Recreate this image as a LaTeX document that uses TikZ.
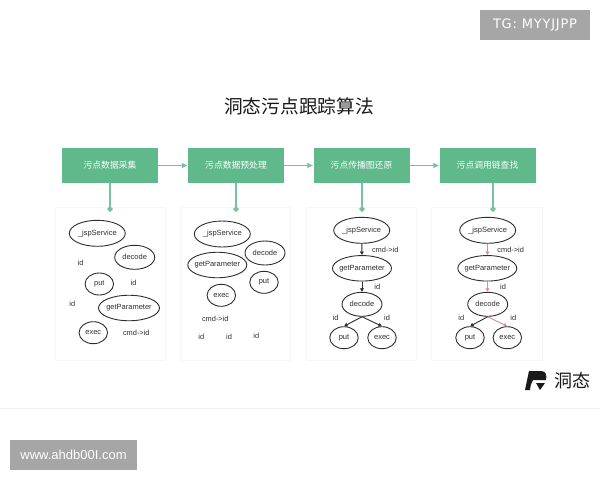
\documentclass[tikz,border=0pt]{standalone}
\usepackage{fontspec}
\setmainfont{Liberation Sans}
\newfontfamily\cjk{Noto Sans CJK SC}
\newfontfamily\tgfont[LetterSpace=6]{DejaVu Sans}
\usetikzlibrary{arrows.meta,shapes.geometric,calc}
\definecolor{flowgreen}{HTML}{5FB98A}
\definecolor{stampgray}{HTML}{A6A6A6}
\definecolor{inkgray}{HTML}{2E2E2E}
\definecolor{hotpink}{HTML}{D98C94}
\tikzset{
  x=1pt,y=-1pt,
  greenbox/.style={fill=flowgreen,draw=none,minimum width=96pt,minimum height=35pt,inner sep=0pt,text=white,font=\cjk\fontsize{8.8}{10}\selectfont},
  card/.style={fill=white,draw=black!3,line width=1pt,minimum width=110.5pt,minimum height=153pt,inner sep=0pt},
  fn/.style={ellipse,draw=inkgray,line width=0.9pt,fill=white,inner sep=-7pt,text=inkgray,font=\fontsize{7.5}{9}\selectfont},
  big/.style={fn,minimum width=56pt,minimum height=26pt},
  gp/.style={fn,minimum width=59pt,minimum height=25.5pt},
  dec/.style={fn,minimum width=40pt,minimum height=24pt},
  small/.style={fn,minimum width=28.5pt,minimum height=22pt},
  lbl/.style={inner sep=0pt,text=inkgray,font=\fontsize{7.4}{9}\selectfont},
  hflow/.style={draw=flowgreen!85!white,line width=1.2pt,-{Latex[length=6pt,width=6pt]}},
  vflow/.style={draw=flowgreen!85!white,line width=1.2pt,-{Diamond[length=6pt,width=6pt]}},
  call/.style={draw=inkgray,line width=0.9pt,-{Latex[length=3.5pt,width=4.5pt]}},
  hot/.style={draw=hotpink,line width=0.9pt,-{Latex[length=3.5pt,width=4.5pt]}},
  stamp/.style={fill=stampgray,inner sep=0pt,text=white},
}
\begin{document}
\begin{tikzpicture}
\useasboundingbox (0,0) rectangle (600,480);
\fill[white] (0,0) rectangle (600,480);
% stamps
\node[stamp,minimum width=110pt,minimum height=30pt,font=\tgfont\fontsize{13}{15}\selectfont] (tg) at (535,25) {TG: MYYJJPP};
\node[stamp,minimum width=127pt,minimum height=30pt,font=\fontsize{13}{15}\selectfont] (www) at (73.5,455) {www.ahdb00I.com};
% title
\node[inner sep=0pt,text=black!90,font=\cjk\fontsize{18.7}{22}\selectfont] (title) at (299,106) {洞态污点跟踪算法};
% cards
\node[card] (c1) at (110.5,283.5) {};
\node[card] (c2) at (235.5,283.5) {};
\node[card] (c3) at (361.5,283.5) {};
\node[card] (c4) at (487,283.5) {};
% green boxes
\node[greenbox] (g1) at (110,165.5) {污点数据采集};
\node[greenbox] (g2) at (236,165.5) {污点数据预处理};
\node[greenbox] (g3) at (361.5,165.5) {污点传播图还原};
\node[greenbox] (g4) at (487.5,165.5) {污点调用链查找};
\draw[hflow] (g1) -- (g2);
\draw[hflow] (g2) -- (g3);
\draw[hflow] (g3) -- (g4);
\coordinate (t1) at (110,212);
\coordinate (t2) at (236,212);
\coordinate (t3) at (362,212);
\coordinate (t4) at (493,212);
\draw[vflow] (t1 |- g1.south) -- (t1);
\draw[vflow] (t2 |- g2.south) -- (t2);
\draw[vflow] (t3 |- g3.south) -- (t3);
\draw[vflow] (t4 |- g4.south) -- (t4);
% column 1
\node[big] (a1) at (97.3,233.3) {\_jspService};
\node[dec] (a2) at (134.7,257.3) {decode};
\node[small] (a3) at (99.3,284) {put};
\node[gp,minimum width=61pt] (a4) at (129,308) {getParameter};
\node[small] (a5) at (93.3,332.7) {exec};
\node[lbl] (al1) at (80.7,263.3) {id};
\node[lbl] (al2) at (133.7,283.3) {id};
\node[lbl] (al3) at (72.3,303.7) {id};
\node[lbl] (al4) at (136.3,333) {cmd->id};
% column 2
\node[big] (b1) at (222.3,234) {\_jspService};
\node[dec] (b2) at (265,253) {decode};
\node[gp] (b3) at (217.3,265) {getParameter};
\node[small] (b4) at (264,282.3) {put};
\node[small] (b5) at (221.3,295.3) {exec};
\node[lbl] (bl1) at (215.3,318.7) {cmd->id};
\node[lbl] (bl2) at (201.3,337) {id};
\node[lbl] (bl3) at (229,337) {id};
\node[lbl] (bl4) at (256.3,336.3) {id};
% column 3
\node[big] (d1) at (361.7,230.3) {\_jspService};
\node[gp] (d2) at (362,268.3) {getParameter};
\node[dec] (d3) at (362,304.3) {decode};
\node[small] (d4) at (344,337.7) {put};
\node[small] (d5) at (382,337.7) {exec};
\draw[call] (d1) -- (d2);
\draw[call] (d2) -- (d3);
\draw[call] (d3.south) -- (d4.north);
\draw[call] (d3.south) -- (d5.north);
\node[lbl] (dl1) at (385.3,250) {cmd->id};
\node[lbl] (dl2) at (377.3,286.7) {id};
\node[lbl] (dl3) at (335.7,318) {id};
\node[lbl] (dl4) at (387,318) {id};
% column 4
\node[big] (e1) at (487.7,230.3) {\_jspService};
\node[gp] (e2) at (487.3,268.3) {getParameter};
\node[dec] (e3) at (487.7,304.3) {decode};
\node[small] (e4) at (470,337.7) {put};
\node[small] (e5) at (507.3,337.7) {exec};
\draw[hot] (e1) -- (e2);
\draw[hot] (e2) -- (e3);
\draw[call] (e3.south) -- (e4.north);
\draw[hot] (e3.south) -- (e5.north);
\node[lbl] (el1) at (510.7,250) {cmd->id};
\node[lbl] (el2) at (503,286.7) {id};
\node[lbl] (el3) at (461.3,318) {id};
\node[lbl] (el4) at (513.3,318) {id};
% logo
\fill[black!90] (529,371) -- (541,371) .. controls (546,371) and (547,375) .. (546,380) -- (533,380) .. controls (531,384) and (530,387) .. (530,390) -- (525,390) -- cycle;
\fill[black!90] (536,383) -- (545,383) -- (540,390) -- cycle;
\node[inner sep=0pt,text=black!90,font=\cjk\fontsize{18}{20}\selectfont] (logo) at (572,380.5) {洞态};
% footer rule
\draw[black!6,line width=0.7pt] (0,408) -- (600,408);
\end{tikzpicture}
\end{document}
